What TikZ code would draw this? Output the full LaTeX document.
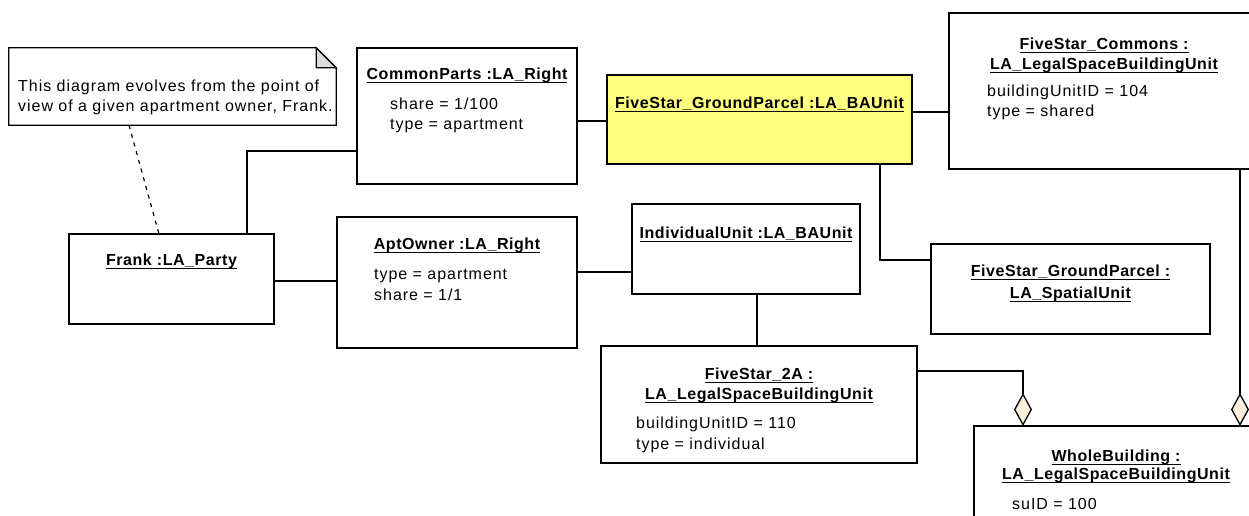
\documentclass[tikz,border=0pt]{standalone}
\usepackage{fontspec}
\setmainfont[LetterSpace=6, BoldFeatures={LetterSpace=3.5}]{Liberation Sans}
\usetikzlibrary{arrows.meta}

\definecolor{parcelyellow}{RGB}{255,255,128}
\definecolor{aggfill}{RGB}{252,240,220}
\definecolor{foldgrey}{RGB}{220,220,220}

\newcommand{\umltextfont}{\fontsize{16}{20}\selectfont}
\newcommand{\umltitlefont}{\fontsize{16}{20}\selectfont\bfseries}

\tikzset{
  x=1pt, y=-1pt,
  conn/.style={line width=1.3pt, draw=black},
  objbox/.style={draw=black, line width=1.4pt, fill=white, rectangle,
    inner sep=0pt, outer sep=0pt},
  ttl/.style={font=\umltitlefont, inner sep=0pt, outer sep=0pt, anchor=base,
    append after command={([yshift=-3.5pt]\tikzlastnode.base west)
      edge[line width=1.3pt] ([yshift=-3.5pt]\tikzlastnode.base east)}},
  attr/.style={font=\umltextfont, inner sep=0pt, anchor=base west},
  agg/.style={conn, -{Diamond[length=33pt, width=18pt, fill=aggfill]}},
  notelink/.style={line width=1.2pt, dash pattern=on 4pt off 5pt},
}

\begin{document}
\begin{tikzpicture}
\useasboundingbox (0,0) rectangle (1249,515);
\clip (0,0) rectangle (1249,515);
\fill[white] (0,0) rectangle (1249,515);

% ---- note ----
\node[inner sep=0pt, minimum width=327, minimum height=77] (note) at (172.5,86.5) {};
\draw[line width=1.3pt, fill=white] (note.north west) -- ([xshift=-20pt]note.north east)
  -- ([yshift=-20pt]note.north east) -- (note.south east) -- (note.south west) -- cycle;
\filldraw[line width=1.3pt, fill=foldgrey] ([xshift=-20pt]note.north east)
  |- ([yshift=-20pt]note.north east) -- cycle;
\node[attr] (notetext1) at (18,91) {This diagram evolves from the point of};
\node[attr] (notetext2) at (18,111) {view of a given apartment owner, Frank.};

% ---- object boxes ----
\node[objbox, minimum width=220, minimum height=136] (common) at (467,116) {};
\node[objbox, fill=parcelyellow, minimum width=305, minimum height=89] (ground) at (759.5,119.5) {};
\node[objbox, minimum width=310, minimum height=156] (commons) at (1104,91) {};
\node[objbox, minimum width=205, minimum height=90] (frank) at (171.5,279) {};
\node[objbox, minimum width=240, minimum height=131] (apt) at (457,282.5) {};
\node[objbox, minimum width=228, minimum height=90] (indiv) at (746,249) {};
\node[objbox, minimum width=279, minimum height=90] (spatial) at (1070.5,289) {};
\node[objbox, minimum width=316, minimum height=117] (twoA) at (759,404.5) {};
\node[objbox, minimum width=284, minimum height=134] (whole) at (1116,493) {};

% ---- titles and attributes ----
\node[ttl] (commonT) at (467,79) {CommonParts :LA\_Right};
\node[attr] (commonA1) at (390,109) {share = 1/100};
\node[attr] (commonA2) at (390,129) {type = apartment};

\node[ttl] (groundT) at (759.5,108) {FiveStar\_GroundParcel :LA\_BAUnit};

\node[ttl] (commonsT1) at (1104,49) {FiveStar\_Commons :};
\node[ttl] (commonsT2) at (1104,69) {LA\_LegalSpaceBuildingUnit};
\node[attr] (commonsA1) at (987,96) {buildingUnitID = 104};
\node[attr] (commonsA2) at (987,116) {type = shared};

\node[ttl] (frankT) at (171.5,265) {Frank :LA\_Party};

\node[ttl] (aptT) at (457,249) {AptOwner :LA\_Right};
\node[attr] (aptA1) at (374,279) {type = apartment};
\node[attr] (aptA2) at (374,300) {share = 1/1};

\node[ttl] (indivT) at (746,238) {IndividualUnit :LA\_BAUnit};

\node[ttl] (spatialT1) at (1070.5,276) {FiveStar\_GroundParcel :};
\node[ttl] (spatialT2) at (1070.5,298) {LA\_SpatialUnit};

\node[ttl] (twoAT1) at (759,379) {FiveStar\_2A :};
\node[ttl] (twoAT2) at (759,399) {LA\_LegalSpaceBuildingUnit};
\node[attr] (twoAA1) at (636,428) {buildingUnitID = 110};
\node[attr] (twoAA2) at (636,449) {type = individual};

\node[ttl] (wholeT1) at (1116,461) {WholeBuilding :};
\node[ttl] (wholeT2) at (1116,479) {LA\_LegalSpaceBuildingUnit};
\node[attr] (wholeA1) at (1012,509) {suID = 100};

% ---- links ----
\draw[notelink] (note.south -| 129,0) -- (frank.north -| 159,0);
\draw[conn] (frank.north -| 247,0) |- (common.west |- 0,151);
\draw[conn] (frank.east |- 0,281) -- (apt.west |- 0,281);
\draw[conn] (common.east |- 0,121) -- (ground.west |- 0,121);
\draw[conn] (ground.east |- 0,112) -- (commons.west |- 0,112);
\draw[conn] (ground.south -| 880,0) |- (spatial.west |- 0,260);
\draw[conn] (apt.east |- 0,272) -- (indiv.west |- 0,272);
\draw[conn] (indiv.south -| 757,0) -- (twoA.north -| 757,0);
\draw[agg] (twoA.east |- 0,371) -| (whole.north -| 1023,0);
\draw[agg] (commons.south -| 1240,0) -- (whole.north -| 1240,0);
\end{tikzpicture}
\end{document}
